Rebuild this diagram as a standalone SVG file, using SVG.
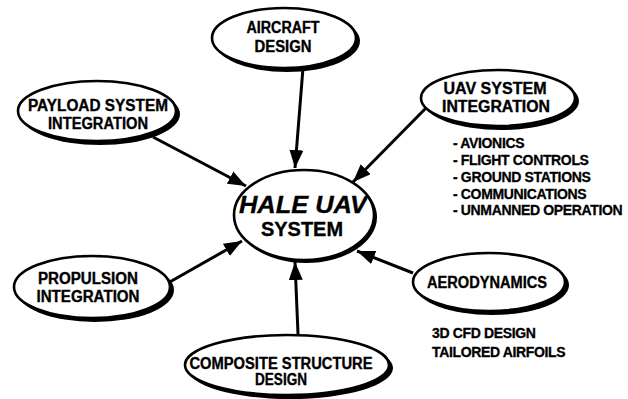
<svg xmlns="http://www.w3.org/2000/svg" width="628" height="399" viewBox="0 0 628 399">
<style>
.sh{fill:#000}
.el{fill:#fff;stroke:#000;stroke-width:2.6}
.t{font-family:"Liberation Sans",Arial,sans-serif;font-weight:bold;font-size:16px;fill:#000;stroke:#000;stroke-width:0.35;text-anchor:middle}
.n{font-family:"Liberation Sans",Arial,sans-serif;font-weight:bold;font-size:14px;letter-spacing:-0.35px;fill:#000;stroke:#000;stroke-width:0.3}
.c{stroke:#000;stroke-width:3;fill:none;marker-end:url(#ah)}
</style>
<defs>
<marker id="ah" markerUnits="userSpaceOnUse" markerWidth="20" markerHeight="14" refX="18" refY="7" orient="auto">
<path d="M0,0 L18,7 L0,14 Z" fill="#000"/>
</marker>
</defs>
<rect width="628" height="399" fill="#fff"/>
<g id="connectors">
<line class="c" x1="303" y1="68" x2="295" y2="168"/>
<line class="c" x1="153" y1="137" x2="246" y2="186"/>
<line class="c" x1="426" y1="108" x2="353" y2="182"/>
<line class="c" x1="168" y1="283" x2="242" y2="241"/>
<line class="c" x1="413" y1="273" x2="357" y2="251"/>
<line class="c" x1="298" y1="334" x2="295" y2="262"/>
</g>
<g id="aircraft">
<ellipse class="sh" cx="287" cy="41" rx="73" ry="31"/>
<ellipse class="el" cx="284" cy="38" rx="72" ry="30"/>
<text class="t" x="283" y="33" textLength="73" lengthAdjust="spacingAndGlyphs">AIRCRAFT</text>
<text class="t" x="283" y="52" textLength="57" lengthAdjust="spacingAndGlyphs">DESIGN</text>
</g>
<g id="payload">
<ellipse class="sh" cx="100" cy="114" rx="80" ry="31"/>
<ellipse class="el" cx="97" cy="111" rx="79" ry="30"/>
<text class="t" x="98" y="111" textLength="140" lengthAdjust="spacingAndGlyphs">PAYLOAD SYSTEM</text>
<text class="t" x="98" y="129" textLength="100" lengthAdjust="spacingAndGlyphs">INTEGRATION</text>
</g>
<g id="uav">
<ellipse class="sh" cx="501" cy="101" rx="78" ry="29"/>
<ellipse class="el" cx="498" cy="98" rx="77" ry="28"/>
<text class="t" x="495" y="94" textLength="103" lengthAdjust="spacingAndGlyphs">UAV SYSTEM</text>
<text class="t" x="496" y="112" textLength="108" lengthAdjust="spacingAndGlyphs">INTEGRATION</text>
</g>
<g id="uav-notes">
<text class="n" x="453" y="148">- AVIONICS</text>
<text class="n" x="453" y="165">- FLIGHT CONTROLS</text>
<text class="n" x="453" y="182">- GROUND STATIONS</text>
<text class="n" x="453" y="199">- COMMUNICATIONS</text>
<text class="n" x="453" y="215">- UNMANNED OPERATION</text>
</g>
<g id="hale">
<ellipse class="sh" cx="306" cy="217" rx="71" ry="46"/>
<ellipse class="el" cx="304" cy="215" rx="70" ry="45"/>
<text class="t" x="303" y="213" style="font-size:24px;font-style:italic" textLength="128" lengthAdjust="spacingAndGlyphs">HALE UAV</text>
<text class="t" x="302" y="236" style="font-size:20px" textLength="82" lengthAdjust="spacingAndGlyphs">SYSTEM</text>
</g>
<g id="propulsion">
<ellipse class="sh" cx="95" cy="290" rx="79" ry="32"/>
<ellipse class="el" cx="92" cy="287" rx="78" ry="31"/>
<text class="t" x="88" y="284" textLength="100" lengthAdjust="spacingAndGlyphs">PROPULSION</text>
<text class="t" x="88" y="302" textLength="103" lengthAdjust="spacingAndGlyphs">INTEGRATION</text>
</g>
<g id="aero">
<ellipse class="sh" cx="492" cy="285" rx="77" ry="30"/>
<ellipse class="el" cx="489" cy="282" rx="76" ry="29"/>
<text class="t" x="487" y="288" textLength="120" lengthAdjust="spacingAndGlyphs">AERODYNAMICS</text>
</g>
<g id="aero-notes">
<text class="n" x="432" y="338">3D CFD DESIGN</text>
<text class="n" x="432" y="357">TAILORED AIRFOILS</text>
</g>
<g id="composite">
<ellipse class="sh" cx="290" cy="368" rx="103" ry="31"/>
<ellipse class="el" cx="287" cy="365" rx="102" ry="30"/>
<text class="t" x="281" y="369" textLength="183" lengthAdjust="spacingAndGlyphs">COMPOSITE STRUCTURE</text>
<text class="t" x="281" y="385" textLength="52" lengthAdjust="spacingAndGlyphs">DESIGN</text>
</g>
</svg>
